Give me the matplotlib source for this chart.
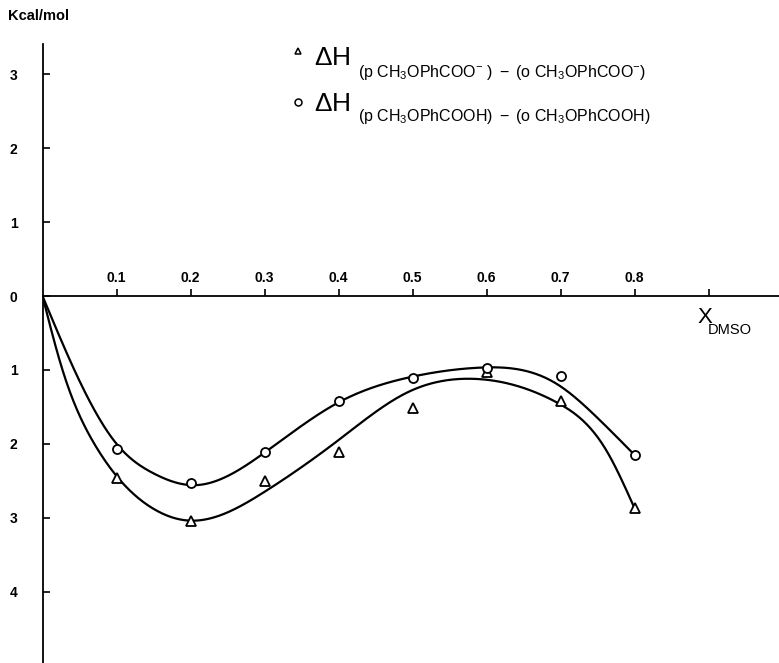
import numpy as np
import matplotlib.pyplot as plt

plt.rcParams['font.family'] = ['Liberation Sans', 'DejaVu Sans']
plt.rcParams['mathtext.fontset'] = 'custom'
plt.rcParams['mathtext.rm'] = 'Liberation Sans'
plt.rcParams['mathtext.it'] = 'Liberation Sans'

# measured points (kcal/mol, negative = below the axis)
x_dmso = [0.1, 0.2, 0.3, 0.4, 0.5, 0.6, 0.7, 0.8]
dh_anion = [-2.46, -3.05, -2.50, -2.11, -1.51, -1.03, -1.42, -2.87]   # triangles
dh_acid = [-2.07, -2.53, -2.11, -1.42, -1.11, -0.98, -1.08, -2.15]    # circles

# hand-drawn smooth curves, knots
curve_anion_x = [0, 0.027, 0.07, 0.15, 0.2, 0.3, 0.4, 0.494, 0.579, 0.695, 0.762, 0.8]
curve_anion_y = [0, -1.0, -2.0, -2.88, -3.04, -2.65, -1.95, -1.30, -1.12, -1.44, -2.09, -2.87]
curve_acid_x = [0, 0.043, 0.1, 0.15, 0.205, 0.3, 0.4, 0.496, 0.59, 0.695, 0.749, 0.8]
curve_acid_y = [0, -1.0, -2.0, -2.40, -2.56, -2.12, -1.44, -1.10, -0.97, -1.19, -1.64, -2.15]

xticks = [0.1, 0.2, 0.3, 0.4, 0.5, 0.6, 0.7, 0.8, 0.9]
xtick_labels = ['0.1', '0.2', '0.3', '0.4', '0.5', '0.6', '0.7', '0.8', '']
yticks = [3, 2, 1, 0, -1, -2, -3, -4]
ytick_labels = ['3', '2', '1', '0', '1', '2', '3', '4']


def natural_spline(xk, yk, n=500):
    xk = np.asarray(xk, float)
    yk = np.asarray(yk, float)
    k = len(xk)
    h = np.diff(xk)
    A = np.zeros((k, k))
    r = np.zeros(k)
    A[0, 0] = A[-1, -1] = 1
    for i in range(1, k - 1):
        A[i, i - 1] = h[i - 1]
        A[i, i] = 2 * (h[i - 1] + h[i])
        A[i, i + 1] = h[i]
        r[i] = 6 * ((yk[i + 1] - yk[i]) / h[i] - (yk[i] - yk[i - 1]) / h[i - 1])
    M = np.linalg.solve(A, r)
    xs = np.linspace(xk[0], xk[-1], n)
    idx = np.clip(np.searchsorted(xk, xs) - 1, 0, k - 2)
    a = xk[idx + 1] - xs
    b = xs - xk[idx]
    hi = h[idx]
    ys = (M[idx] * a ** 3 + M[idx + 1] * b ** 3) / (6 * hi) \
        + (yk[idx] / hi - M[idx] * hi / 6) * a \
        + (yk[idx + 1] / hi - M[idx + 1] * hi / 6) * b
    return xs, ys


fig = plt.figure(figsize=(7.79, 6.63), dpi=100)
W, H = 779, 663
ax = fig.add_axes([42.5 / W, 0, (W - 42.5) / W, (H - 44) / H])
ax.set_xlim(0, (W - 42.5) / 740)
ax.set_ylim(-(H - 296) / 73.9, (296 - 44) / 73.9)

for s in ['top', 'right']:
    ax.spines[s].set_visible(False)
ax.spines['bottom'].set_position(('data', 0))
ax.spines['left'].set_position(('data', 0))
ax.spines['bottom'].set_linewidth(1.3)
ax.spines['left'].set_linewidth(1.3)

ax.set_xticks(xticks)
ax.set_xticklabels(xtick_labels, fontsize=10, fontweight='bold')
ax.set_yticks(yticks)
ax.set_yticklabels(ytick_labels, fontsize=10, fontweight='bold')
ax.tick_params(axis='x', direction='in', length=5, width=1.2, pad=-8)
ax.tick_params(axis='y', direction='in', length=5, width=1.2, pad=18)
for lab in ax.get_xticklabels():
    lab.set_verticalalignment('bottom')

xs, ys = natural_spline(curve_anion_x, curve_anion_y)
ax.plot(xs, ys, color='black', lw=1.6, solid_capstyle='round')
xs, ys = natural_spline(curve_acid_x, curve_acid_y)
ax.plot(xs, ys, color='black', lw=1.6, solid_capstyle='round')

ax.plot(x_dmso, dh_anion, linestyle='none', marker='^', ms=6.5, mfc='white',
        mec='black', mew=1.3, clip_on=False, zorder=3)
ax.plot(x_dmso, dh_acid, linestyle='none', marker='o', ms=6.5, mfc='white',
        mec='black', mew=1.3, clip_on=False, zorder=3)

# text placed in figure pixel coords
def fpx(x, y):
    return x / W, 1 - y / H

fig.text(*fpx(8, 16), 'Kcal/mol', fontsize=10.5, fontweight='bold', va='center', ha='left')

fig.text(*fpx(314, 58), r'$\Delta$H', fontsize=19, va='center', ha='left')
fig.text(*fpx(358, 72),
         r'$\mathrm{(p\ CH_3OPhCOO^{-}\ )\ -\ (o\ CH_3OPhCOO^{-})}$',
         fontsize=11.5, va='center', ha='left')
fig.text(*fpx(314, 104), r'$\Delta$H', fontsize=19, va='center', ha='left')
fig.text(*fpx(358, 117),
         r'$\mathrm{(p\ CH_3OPhCOOH)\ -\ (o\ CH_3OPhCOOH)}$',
         fontsize=11.5, va='center', ha='left')
leg = fig.add_axes([0, 0, 1, 1], facecolor='none')
leg.set_xlim(0, W)
leg.set_ylim(H, 0)
leg.axis('off')
leg.plot([298], [51], marker='^', ms=5, mfc='white', mec='black', mew=1.1)
leg.plot([298], [102], marker='o', ms=5, mfc='white', mec='black', mew=1.1)

fig.text(*fpx(697, 317), 'X', fontsize=16, va='center', ha='left')
fig.text(*fpx(708, 330), 'DMSO', fontsize=10.5, va='center', ha='left')

fig.savefig('out.png', dpi=100)
